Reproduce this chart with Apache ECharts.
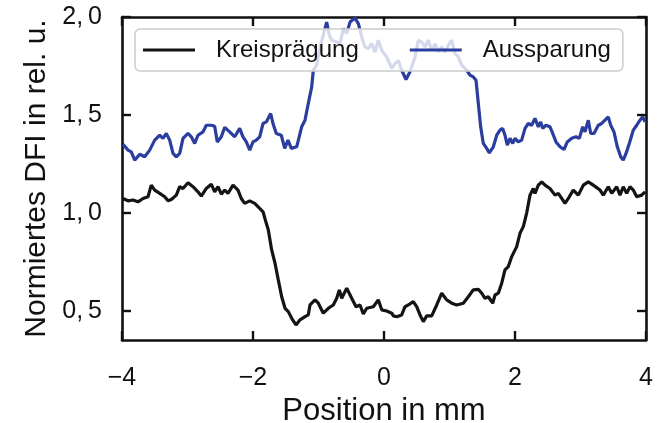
<!DOCTYPE html>
<html>
<head>
<meta charset="utf-8">
<script src="https://cdn.jsdelivr.net/npm/echarts@6/dist/echarts.min.js"></script>
<style>
  html, body { margin: 0; padding: 0; background: #ffffff; }
  #chart { width: 662px; height: 423px; }
</style>
</head>
<body>
<div id="chart"></div>
<script>
// Profile positions (mm) and normalised DFI signal for the embossed circle
const kreisX = [-3.985,-3.908,-3.832,-3.756,-3.679,-3.603,-3.553,-3.501,-3.424,-3.348,-3.298,-3.247,-3.171,-3.119,-3.069,-2.992,-2.916,-2.840,-2.789,-2.713,-2.637,-2.585,-2.534,-2.484,-2.432,-2.382,-2.305,-2.229,-2.179,-2.127,-2.050,-1.974,-1.898,-1.847,-1.797,-1.766,-1.715,-1.664,-1.614,-1.562,-1.511,-1.461,-1.409,-1.344,-1.282,-1.206,-1.156,-1.130,-1.053,-1.003,-0.927,-0.850,-0.774,-0.722,-0.682,-0.646,-0.569,-0.493,-0.427,-0.366,-0.316,-0.264,-0.163,-0.087,-0.035,0.041,0.118,0.143,0.194,0.219,0.270,0.321,0.371,0.447,0.499,0.550,0.600,0.652,0.728,0.805,0.881,0.957,1.034,1.110,1.211,1.287,1.363,1.440,1.492,1.542,1.592,1.660,1.695,1.745,1.797,1.847,1.898,1.950,2.026,2.076,2.127,2.179,2.229,2.279,2.305,2.356,2.408,2.458,2.534,2.611,2.661,2.713,2.763,2.814,2.890,2.966,3.043,3.119,3.195,3.298,3.348,3.424,3.476,3.553,3.603,3.653,3.705,3.756,3.806,3.858,3.934,3.985];
const kreisY = [1.073,1.061,1.065,1.056,1.073,1.082,1.141,1.116,1.099,1.082,1.061,1.068,1.090,1.133,1.124,1.153,1.133,1.107,1.085,1.124,1.146,1.107,1.133,1.095,1.116,1.099,1.141,1.116,1.073,1.048,1.061,1.048,1.022,1.005,0.946,0.912,0.810,0.742,0.657,0.571,0.512,0.495,0.461,0.427,0.453,0.469,0.478,0.529,0.555,0.538,0.487,0.512,0.529,0.563,0.606,0.563,0.614,0.563,0.520,0.529,0.483,0.512,0.520,0.555,0.504,0.498,0.487,0.473,0.469,0.469,0.478,0.520,0.529,0.546,0.520,0.478,0.444,0.473,0.473,0.529,0.589,0.555,0.538,0.529,0.538,0.571,0.606,0.609,0.589,0.563,0.571,0.538,0.580,0.589,0.640,0.708,0.725,0.776,0.827,0.895,0.929,1.000,1.090,1.124,1.099,1.141,1.158,1.141,1.124,1.090,1.099,1.073,1.048,1.073,1.116,1.090,1.141,1.158,1.141,1.116,1.090,1.133,1.099,1.133,1.090,1.133,1.099,1.133,1.116,1.082,1.090,1.107];

// Profile positions (mm) and normalised DFI signal for the recess
const ausX = [-3.985,-3.959,-3.908,-3.858,-3.806,-3.730,-3.653,-3.577,-3.501,-3.424,-3.374,-3.324,-3.272,-3.221,-3.171,-3.119,-3.069,-2.992,-2.942,-2.890,-2.840,-2.763,-2.713,-2.637,-2.585,-2.545,-2.484,-2.432,-2.356,-2.279,-2.203,-2.153,-2.102,-2.050,-2.000,-1.950,-1.898,-1.847,-1.797,-1.730,-1.695,-1.644,-1.568,-1.516,-1.466,-1.415,-1.385,-1.333,-1.257,-1.206,-1.156,-1.104,-1.079,-1.027,-0.977,-0.927,-0.875,-0.835,-0.798,-0.722,-0.672,-0.621,-0.569,-0.519,-0.443,-0.392,-0.340,-0.290,-0.240,-0.188,-0.137,-0.087,-0.035,0.041,0.118,0.168,0.218,0.270,0.336,0.397,0.473,0.524,0.576,0.626,0.676,0.728,0.779,0.829,0.881,0.931,0.997,1.034,1.084,1.134,1.186,1.263,1.313,1.363,1.405,1.440,1.476,1.516,1.568,1.608,1.669,1.721,1.771,1.812,1.847,1.882,1.924,1.965,2.000,2.050,2.102,2.153,2.203,2.255,2.305,2.356,2.392,2.423,2.473,2.534,2.576,2.626,2.687,2.748,2.798,2.866,2.931,2.982,3.034,3.069,3.119,3.156,3.206,3.272,3.324,3.374,3.424,3.461,3.511,3.562,3.614,3.653,3.695,3.745,3.806,3.858,3.908,3.950,3.985];
const ausY = [1.350,1.345,1.320,1.311,1.269,1.299,1.286,1.320,1.371,1.396,1.380,1.405,1.371,1.303,1.286,1.303,1.380,1.405,1.388,1.354,1.396,1.413,1.447,1.447,1.442,1.362,1.388,1.436,1.413,1.388,1.431,1.388,1.362,1.320,1.362,1.371,1.388,1.456,1.464,1.507,1.456,1.405,1.396,1.329,1.371,1.329,1.320,1.337,1.439,1.473,1.558,1.643,1.728,1.754,1.847,1.907,1.974,1.907,1.881,1.872,1.864,1.941,1.915,1.974,1.995,1.966,1.898,1.847,1.839,1.864,1.821,1.881,1.830,1.796,1.737,1.762,1.779,1.728,1.681,1.720,1.796,1.881,1.872,1.847,1.881,1.830,1.864,1.821,1.847,1.821,1.864,1.881,1.813,1.796,1.754,1.728,1.703,1.694,1.677,1.558,1.439,1.354,1.329,1.306,1.337,1.396,1.422,1.431,1.396,1.345,1.380,1.354,1.380,1.362,1.371,1.431,1.456,1.447,1.482,1.439,1.464,1.431,1.447,1.439,1.405,1.362,1.337,1.323,1.362,1.380,1.388,1.380,1.439,1.413,1.473,1.405,1.405,1.447,1.456,1.473,1.490,1.447,1.413,1.337,1.286,1.269,1.303,1.354,1.422,1.447,1.473,1.490,1.464];

const xTicks = [-4, -2, 0, 2, 4];
const yTicks = [0.5, 1.0, 1.5, 2.0];

const seriesNames = ['Kreisprägung', 'Aussparung'];
const seriesColors = ['#141414', '#2b3d9e'];

const FONT = "'Liberation Sans', Arial, Helvetica, sans-serif";
const INK = '#111111';

const pairs = (xs, ys) => xs.map((x, i) => [x, ys[i]]);
const fmtX = v => (v < 0 ? '\u2212' + Math.abs(v) : String(v));
const fmtY = v => v.toFixed(1).replace('.', ',\u2009');

const frameLine = { show: true, onZero: false, lineStyle: { color: INK, width: 2.6 } };
const tickStyle = { show: true, inside: true, length: 9, lineStyle: { color: INK, width: 2.4 } };

const chart = echarts.init(document.getElementById('chart'), null, { renderer: 'canvas' });

chart.setOption({
  backgroundColor: '#ffffff',
  animation: false,
  textStyle: { fontFamily: FONT, color: INK },
  grid: { left: 122, right: 16, top: 17, bottom: 83, containLabel: false, outerBoundsMode: 'none' },
  legend: {
    show: true,
    selectedMode: false,
    left: 135,
    top: 29,
    orient: 'horizontal',
    icon: 'rect',
    itemWidth: 52,
    itemHeight: 3,
    itemGap: 51,
    padding: [9, 12, 9, 8],
    backgroundColor: 'rgba(255,255,255,0.8)',
    borderColor: '#cccccc',
    borderWidth: 1.5,
    borderRadius: 5,
    textStyle: { fontFamily: FONT, fontSize: 24, color: INK, padding: [0, 0, 0, 16] },
    data: seriesNames
  },
  xAxis: [
    {
      type: 'value', position: 'bottom', min: -4, max: 4, interval: 2,
      axisLine: frameLine, axisTick: tickStyle, splitLine: { show: false },
      axisLabel: { show: true, margin: 26, fontSize: 25, color: INK, fontFamily: FONT, formatter: fmtX },
      name: 'Position in mm', nameLocation: 'middle', nameGap: 53,
      nameTextStyle: { fontSize: 31, color: INK, fontFamily: FONT }
    },
    {
      type: 'value', position: 'top', min: -4, max: 4, interval: 2,
      axisLine: frameLine, axisTick: tickStyle, splitLine: { show: false },
      axisLabel: { show: false }
    }
  ],
  yAxis: [
    {
      type: 'value', position: 'left', min: 0.35, max: 2.0,
      axisLine: frameLine,
      axisTick: Object.assign({}, tickStyle, { customValues: yTicks }),
      splitLine: { show: false },
      axisLabel: { show: true, margin: 20, fontSize: 25, color: INK, fontFamily: FONT, customValues: yTicks, formatter: fmtY },
      name: 'Normiertes DFI in rel. u.', nameLocation: 'middle', nameGap: 70,
      nameTextStyle: { fontSize: 30, color: INK, fontFamily: FONT }
    },
    {
      type: 'value', position: 'right', min: 0.35, max: 2.0,
      axisLine: frameLine,
      axisTick: Object.assign({}, tickStyle, { customValues: yTicks }),
      splitLine: { show: false },
      axisLabel: { show: false, customValues: yTicks }
    }
  ],
  series: [
    {
      name: seriesNames[0], type: 'line', xAxisIndex: 0, yAxisIndex: 0,
      data: pairs(kreisX, kreisY), showSymbol: false, symbol: 'none', smooth: false,
      lineStyle: { color: seriesColors[0], width: 3.2 }, itemStyle: { color: seriesColors[0] },
      z: 2
    },
    {
      name: seriesNames[1], type: 'line', xAxisIndex: 0, yAxisIndex: 0,
      data: pairs(ausX, ausY), showSymbol: false, symbol: 'none', smooth: false,
      lineStyle: { color: seriesColors[1], width: 3.2 }, itemStyle: { color: seriesColors[1] },
      z: 2
    }
  ]
});
</script>
</body>
</html>
